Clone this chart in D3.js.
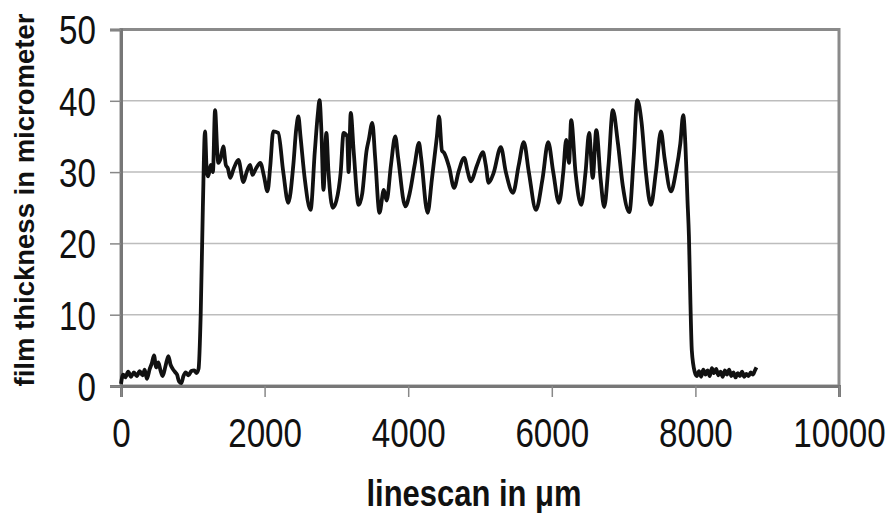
<!DOCTYPE html>
<html>
<head>
<meta charset="utf-8">
<script src="https://cdn.jsdelivr.net/npm/d3@7"></script>
<style>
  html, body { margin: 0; padding: 0; background: #fff; }
  svg { display: block; font-family: "Liberation Sans", Arial, sans-serif; }
</style>
</head>
<body>
<svg id="chart" width="891" height="513"></svg>
<script>
// linescan position (µm)
const scanX = [
  0, 30, 60, 100, 140, 180, 220, 260, 300, 330, 360, 400, 430, 460, 490, 520, 550, 580, 620, 660,
  690, 720, 750, 780, 810, 840, 870, 900, 940, 980, 1020, 1050, 1080,
  1110, 1140, 1170, 1195, 1215, 1250, 1280, 1310, 1340, 1355, 1390, 1425, 1460, 1490, 1520, 1570,
  1635, 1705, 1750, 1800, 1830, 1880, 1940, 1990, 2040, 2080, 2120, 2190, 2260, 2330, 2400, 2440,
  2470, 2500, 2560, 2640, 2700, 2740, 2765, 2790, 2820, 2860, 2890, 2950, 3000, 3060, 3100, 3150,
  3170, 3200, 3240, 3310, 3360, 3420, 3450, 3500, 3540, 3600, 3660, 3700, 3760, 3820, 3860, 3960,
  4020, 4090, 4150, 4180, 4270, 4330, 4400, 4430, 4470, 4500, 4570, 4640, 4700, 4780, 4830, 4870,
  4960, 5040, 5080, 5120, 5190, 5290, 5360, 5460, 5540, 5610, 5680, 5780, 5870, 5950, 6020, 6100,
  6160, 6200, 6240, 6270, 6330, 6410, 6470, 6520, 6570, 6620, 6680, 6730, 6790, 6850, 6920, 6990,
  7080, 7140, 7190, 7250, 7310, 7380, 7450, 7520, 7570, 7660, 7730, 7790, 7830, 7860, 7890, 7910,
  7930, 7950, 7990,
  8020, 8050, 8080, 8110, 8140, 8170, 8200, 8230, 8260, 8290, 8320, 8350, 8380, 8410, 8440, 8470,
  8500, 8530, 8560, 8590, 8620, 8650, 8680, 8710, 8740, 8770, 8800, 8830, 8850
];

// film thickness (micrometer)
const thickness = [
  0.3, 1.6, 1.2, 2.0, 1.3, 1.9, 1.4, 2.1, 1.5, 2.3, 1.0, 2.4, 3.2, 4.3, 2.6, 3.3, 2.2, 1.4, 2.8, 4.2,
  3.0, 2.4, 2.0, 1.6, 0.6, 0.4, 1.4, 1.9, 1.5, 2.1, 2.2, 1.8, 2.4,
  10, 25, 35.7, 30, 29.4, 31, 30, 38.7, 33, 31.3, 32, 33.6, 31, 30.5, 29.2, 30.5,
  31.7, 28.6, 30, 31, 29.6, 30.5, 31.3, 29.5, 27.3, 31, 35.7, 35.5, 30, 25.7, 31, 36,
  37.8, 35, 29, 24.7, 33, 38, 40.1, 36, 27.5, 35.5, 30, 25, 26, 30, 35.5, 35,
  30, 38.3, 33, 25.4, 27, 33, 34.5, 36.9, 32, 24.3, 27.5, 26, 31, 35, 32, 25.2,
  27, 31, 34.1, 32, 24.3, 29, 35, 37.8, 33, 32.7, 30.7, 27.8, 30, 32, 30, 28.7,
  31, 32.8, 31, 28.5, 29.9, 33.5, 30, 27.1, 31, 34.2, 30, 24.7, 29, 34.2, 30, 25.7,
  30, 34.5, 31.3, 37.3, 30, 25.4, 30, 35.5, 29.2, 35.9, 29, 25.1, 31, 38.7, 34.1, 28,
  24.4, 32, 40.1, 37, 30, 25.4, 30, 35.7, 32, 27.3, 30.1, 34, 38, 34, 26, 21,
  12, 5, 2.0,
  1.4, 2.1, 1.3, 2.3, 1.6, 2.2, 1.4, 2.5, 1.8, 2.4, 1.5, 2.0, 1.3, 2.2, 1.6, 2.3,
  1.4, 1.9, 1.2, 1.8, 1.4, 2.0, 1.3, 1.7, 1.4, 1.9, 1.6, 2.2, 2.6
];

const xTicks = [0, 2000, 4000, 6000, 8000, 10000];
const yTicks = [0, 10, 20, 30, 40, 50];

const xTitle = "linescan in \u03bcm";
const yTitle = "film thickness in micrometer";

const margin = { left: 121, top: 29.5, right: 52, bottom: 127 };
const width = 891 - margin.left - margin.right,
      height = 513 - margin.top - margin.bottom;

const svg = d3.select("#chart");
const g = svg.append("g")
  .attr("transform", `translate(${margin.left}, ${margin.top})`);

const xScale = d3.scaleLinear().domain([0, 10000]).range([0, width]);
const yScale = d3.scaleLinear().domain([0, 50]).range([height, 0]);

// gridlines
g.append("g")
  .selectAll("line")
  .data(yTicks.filter(d => d > 0 && d < 50))
  .join("line")
  .attr("x1", 0).attr("x2", width)
  .attr("y1", d => yScale(d)).attr("y2", d => yScale(d))
  .attr("stroke", "#bdbdbd")
  .attr("stroke-width", 1.5);

// frame (top/right)
g.append("rect")
  .attr("x", 0).attr("y", 0)
  .attr("width", width).attr("height", height)
  .attr("fill", "none")
  .attr("stroke", "#8a8a8a")
  .attr("stroke-width", 3);

// axes
const xAxis = g.append("g")
  .attr("transform", `translate(0, ${height})`)
  .call(d3.axisBottom(xScale).tickValues(xTicks).tickSize(11).tickPadding(22).tickFormat(d3.format("d")));
const yAxis = g.append("g")
  .call(d3.axisLeft(yScale).tickValues(yTicks).tickSize(11).tickPadding(14));

const sx = 0.83; // tall, narrow digits like the original
[xAxis, yAxis].forEach(a => {
  a.select(".domain").attr("stroke", "#777").attr("stroke-width", 3);
  a.selectAll(".tick line").attr("stroke", "#888").attr("stroke-width", 1.5);
  a.selectAll("text")
    .attr("fill", "#111")
    .attr("transform", `scale(${sx},1)`)
    .style("font-family", "'Liberation Sans', Arial, sans-serif")
    .style("font-size", "40px");
});
xAxis.selectAll("text").attr("dy", "0.71em");
yAxis.selectAll("text").attr("dy", "0.36em").attr("x", -25 / sx);

// data line
const valueLine = d3.line()
  .x((d, i) => xScale(scanX[i]))
  .y(d => yScale(d))
  .curve(d3.curveMonotoneX);
g.append("path")
  .datum(thickness)
  .attr("fill", "none")
  .attr("stroke", "#111")
  .attr("stroke-width", 3.8)
  .attr("stroke-linejoin", "round")
  .attr("d", valueLine);

// titles
svg.append("text")
  .attr("x", margin.left + width / 2 - 6)
  .attr("y", 506)
  .attr("text-anchor", "middle")
  .attr("fill", "#111")
  .attr("textLength", 215)
  .attr("lengthAdjust", "spacingAndGlyphs")
  .style("font-size", "36px")
  .style("font-weight", "bold")
  .text(xTitle);

svg.append("text")
  .attr("transform", `translate(34, ${200}) rotate(-90)`)
  .attr("text-anchor", "middle")
  .attr("fill", "#111")
  .style("font-size", "27.5px")
  .style("font-weight", "bold")
  .text(yTitle);
</script>
</body>
</html>
